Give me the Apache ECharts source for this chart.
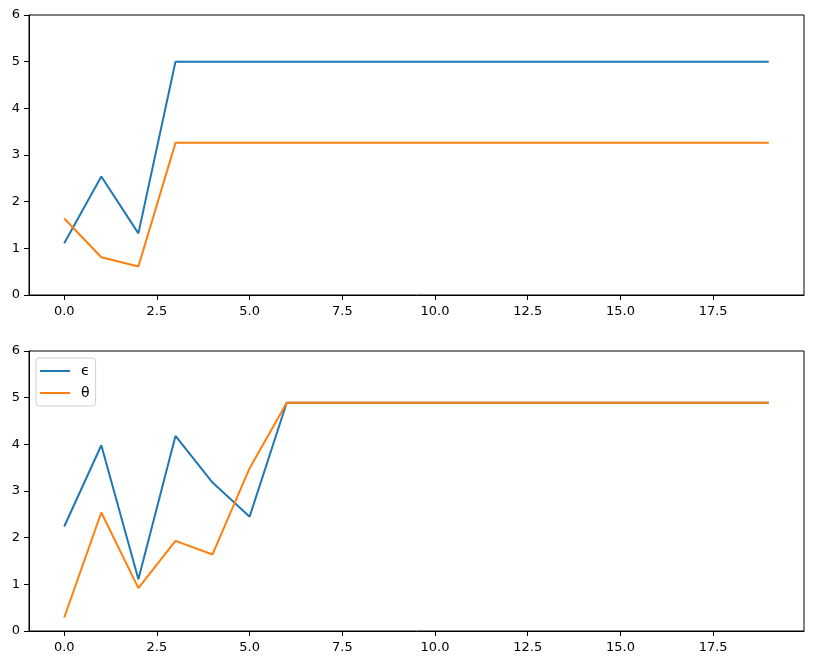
<!DOCTYPE html>
<html>
<head>
<meta charset="utf-8">
<script src="https://cdn.jsdelivr.net/npm/echarts@6/dist/echarts.min.js"></script>
<style>
html,body{margin:0;padding:0;background:#fff;}
#chart{width:813px;height:665px;}
</style>
</head>
<body>
<div id="chart"></div>
<script>
// ---- data ----
const xValues = [0,1,2,3,4,5,6,7,8,9,10,11,12,13,14,15,16,17,18,19];
const topEpsilon = [1.11,2.54,1.32,5.0,5.0,5.0,5.0,5.0,5.0,5.0,5.0,5.0,5.0,5.0,5.0,5.0,5.0,5.0,5.0,5.0];
const topTheta   = [1.64,0.81,0.61,3.26,3.26,3.26,3.26,3.26,3.26,3.26,3.26,3.26,3.26,3.26,3.26,3.26,3.26,3.26,3.26,3.26];
const botEpsilon = [2.24,3.98,1.11,4.18,3.18,2.45,4.89,4.89,4.89,4.89,4.89,4.89,4.89,4.89,4.89,4.89,4.89,4.89,4.89,4.89];
const botTheta   = [0.29,2.54,0.92,1.93,1.64,3.49,4.89,4.89,4.89,4.89,4.89,4.89,4.89,4.89,4.89,4.89,4.89,4.89,4.89,4.89];
const xTicks = [0, 2.5, 5, 7.5, 10, 12.5, 15, 17.5];
const yTicks = [0, 1, 2, 3, 4, 5, 6];
const seriesNames = ['ϵ', 'θ'];

const pairs = (ys) => xValues.map((x, i) => [x, ys[i]]);
const blue = '#1f77b4', orange = '#ff7f0e';
const font = 'DejaVu Sans';

function xAxis(gi) {
  return {
    type: 'value', gridIndex: gi, min: -0.95, max: 19.95,
    axisLine: { show: true, onZero: false, lineStyle: { color: '#000', width: 1 } },
    axisTick: { show: true, length: 5, inside: false, lineStyle: { color: '#000' }, customValues: xTicks },
    axisLabel: { show: true, color: '#000', fontFamily: font, fontSize: 13, margin: 10,
      customValues: xTicks, formatter: v => v.toFixed(1) },
    splitLine: { show: false }
  };
}
function yAxis(gi) {
  return {
    type: 'value', gridIndex: gi, min: 0, max: 6, interval: 1,
    axisLine: { show: true, onZero: false, lineStyle: { color: '#000', width: 1 } },
    axisTick: { show: true, length: 5, lineStyle: { color: '#000' }, customValues: yTicks },
    axisLabel: { show: true, color: '#000', fontFamily: font, fontSize: 13, margin: 9,
      customValues: yTicks, formatter: v => String(v) },
    splitLine: { show: false }
  };
}
function line(name, data, color, gi) {
  return {
    type: 'line', name: name, xAxisIndex: gi, yAxisIndex: gi, data: pairs(data),
    showSymbol: false, symbol: 'none', lineStyle: { color: color, width: 2 },
    itemStyle: { color: color }, z: 3
  };
}

const chart = echarts.init(document.getElementById('chart'), null, { renderer: 'canvas' });
chart.setOption({
  animation: false,
  backgroundColor: '#fff',
  grid: [
    { left: 29, top: 15, width: 775, height: 280, show: true, borderColor: '#000', borderWidth: 1, backgroundColor: 'transparent' },
    { left: 29, top: 351, width: 775, height: 280, show: true, borderColor: '#000', borderWidth: 1, backgroundColor: 'transparent' }
  ],
  xAxis: [xAxis(0), xAxis(1)],
  yAxis: [yAxis(0), yAxis(1)],
  legend: {
    data: [
      { name: seriesNames[0], icon: 'rect' },
      { name: seriesNames[1], icon: 'rect' }
    ],
    orient: 'vertical', left: 36, top: 358,
    itemWidth: 30, itemHeight: 2, itemGap: 8,
    padding: [6, 6, 6, 4],
    borderColor: '#d0d0d0', borderWidth: 1, borderRadius: 3,
    backgroundColor: 'rgba(255,255,255,0.8)',
    textStyle: { fontFamily: font, fontSize: 14, color: '#000', padding: [0, 0, 0, 6] }
  },
  series: [
    line(seriesNames[0], topEpsilon, blue, 0),
    line(seriesNames[1], topTheta, orange, 0),
    line(seriesNames[0], botEpsilon, blue, 1),
    line(seriesNames[1], botTheta, orange, 1)
  ]
});
</script>
</body>
</html>
